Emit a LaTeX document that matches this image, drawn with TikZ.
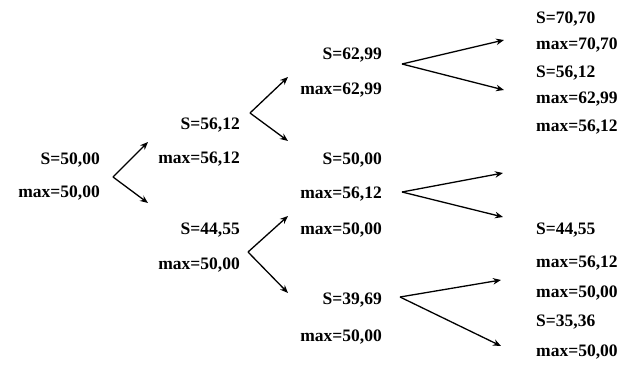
\documentclass[tikz,border=0pt]{standalone}
\usepackage{fontspec}
\setmainfont{Liberation Serif}
\usetikzlibrary{arrows.meta}
\tikzset{
  lbl/.style={inner sep=0pt, font=\bfseries\fontsize{17.5}{20}\selectfont},
  lr/.style={lbl, anchor=base east},
  ll/.style={lbl, anchor=base west},
  branch/.style={-{Stealth[length=8pt,width=6.5pt]}, line width=1.3pt}
}
\begin{document}
\begin{tikzpicture}[x=1pt,y=-1pt]
\useasboundingbox (0,0) rectangle (624,378);

% level 0
\node[lr] (s0)  at (100,164) {S=50,00};
\node[lr] (m0)  at (100,197) {max=50,00};

% level 1
\node[lr] (s1a) at (240,129) {S=56,12};
\node[lr] (m1a) at (240,163) {max=56,12};
\node[lr] (s1b) at (240,234) {S=44,55};
\node[lr] (m1b) at (240,269) {max=50,00};

% level 2
\node[lr] (s2a) at (382,59)  {S=62,99};
\node[lr] (m2a) at (382,94)  {max=62,99};
\node[lr] (s2b) at (382,164) {S=50,00};
\node[lr] (m2b) at (382,198) {max=56,12};
\node[lr] (m2c) at (382,234) {max=50,00};
\node[lr] (s2d) at (382,304) {S=39,69};
\node[lr] (m2d) at (382,341) {max=50,00};

% level 3
\node[ll] (s3a) at (536,23)  {S=70,70};
\node[ll] (m3a) at (536,49)  {max=70,70};
\node[ll] (s3b) at (536,77)  {S=56,12};
\node[ll] (m3b) at (536,103) {max=62,99};
\node[ll] (m3c) at (536,131) {max=56,12};
\node[ll] (s3d) at (536,234) {S=44,55};
\node[ll] (m3d) at (536,267) {max=56,12};
\node[ll] (m3e) at (536,297) {max=50,00};
\node[ll] (s3f) at (536,326) {S=35,36};
\node[ll] (m3f) at (536,356) {max=50,00};

% branching points and arrow tips
\coordinate (v0)  at (113,177);
\coordinate (t0u) at (148,142);
\coordinate (t0d) at (148,203);

\coordinate (v1a)  at (250,113);
\coordinate (t1au) at (288,77);
\coordinate (t1ad) at (288,141);

\coordinate (v1b)  at (248,252);
\coordinate (t1bu) at (288,216);
\coordinate (t1bd) at (288,293);

\coordinate (v2a)  at (402,64);
\coordinate (t2au) at (504,40);
\coordinate (t2ad) at (504,90);

\coordinate (v2b)  at (402,192);
\coordinate (t2bu) at (503,173);
\coordinate (t2bd) at (503,217);

\coordinate (v2c)  at (400,297);
\coordinate (t2cu) at (501,280);
\coordinate (t2cd) at (501,346);

\foreach \v/\u/\d in {v0/t0u/t0d, v1a/t1au/t1ad, v1b/t1bu/t1bd,
                      v2a/t2au/t2ad, v2b/t2bu/t2bd, v2c/t2cu/t2cd}{
  \draw[branch] (\v) -- (\u);
  \draw[branch] (\v) -- (\d);
}
\end{tikzpicture}
\end{document}
